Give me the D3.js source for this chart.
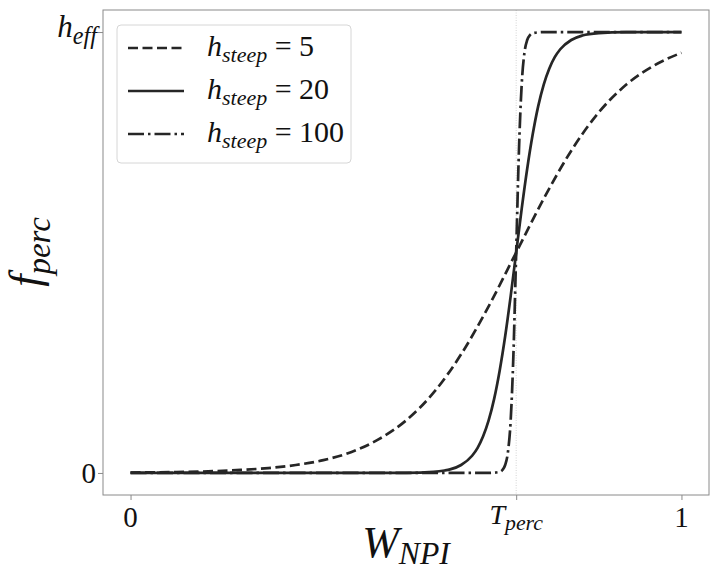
<!DOCTYPE html>
<html>
<head>
<meta charset="utf-8">
<script src="https://cdn.jsdelivr.net/npm/d3@7"></script>
<style>
  html, body { margin: 0; padding: 0; background: #fff; }
  svg text { font-family: "Liberation Serif", "DejaVu Serif", serif; fill: #111; }
</style>
</head>
<body>
<div id="chart"></div>
<script>
// values (f_perc in units of h_eff, W_NPI on [0,1])
const thresholdW = 0.7;

const steep5X = [0, 0.05, 0.1, 0.15, 0.2, 0.25, 0.3, 0.35, 0.4, 0.45, 0.5, 0.55, 0.6, 0.65, 0.7, 0.75, 0.8, 0.85, 0.9, 0.95, 1.0];
const steep5Y = [0.001, 0.0015, 0.0025, 0.004, 0.007, 0.011, 0.018, 0.029, 0.047, 0.076, 0.119, 0.182, 0.269, 0.378, 0.5, 0.622, 0.731, 0.818, 0.881, 0.924, 0.953];

const steep20X = [0, 0.1, 0.2, 0.3, 0.4, 0.5, 0.55, 0.57, 0.58, 0.6, 0.62, 0.63, 0.64, 0.65, 0.66, 0.67, 0.68, 0.69, 0.7, 0.71, 0.72, 0.73, 0.74, 0.75, 0.76, 0.77, 0.78, 0.8, 0.82, 0.85, 0.9, 1.0];
const steep20Y = [0, 0, 0, 0, 0, 0.0003, 0.0025, 0.0055, 0.008, 0.018, 0.039, 0.057, 0.083, 0.119, 0.168, 0.232, 0.31, 0.401, 0.5, 0.599, 0.69, 0.768, 0.832, 0.881, 0.917, 0.943, 0.961, 0.982, 0.992, 0.9975, 0.9997, 1.0];

const steep100X = [0, 0.3, 0.5, 0.65, 0.67, 0.675, 0.68, 0.685, 0.69, 0.695, 0.7, 0.705, 0.71, 0.715, 0.72, 0.725, 0.73, 0.75, 1.0];
const steep100Y = [0, 0, 0, 0, 0.0025, 0.0067, 0.018, 0.047, 0.119, 0.269, 0.5, 0.731, 0.881, 0.953, 0.982, 0.993, 0.9975, 1.0, 1.0];

const legendValues = ["5", "20", "100"];
const dashStyles = ["10,4.5", null, "16,4,2.5,4"];

const width = 722, height = 577;
const margin = { left: 103, right: 13, top: 10, bottom: 82 };
const ink = "#262626";

const svg = d3.select("#chart").append("svg")
    .attr("width", width)
    .attr("height", height);

// matplotlib-style 5% padding on both axes
const x = d3.scaleLinear().domain([-0.05, 1.05]).range([margin.left, width - margin.right]);
const y = d3.scaleLinear().domain([-0.05, 1.05]).range([height - margin.bottom, margin.top]);

// threshold guide line
svg.append("line")
    .attr("x1", x(thresholdW)).attr("x2", x(thresholdW))
    .attr("y1", margin.top).attr("y2", height - margin.bottom)
    .attr("stroke", "#c8c8c8")
    .attr("stroke-width", 0.8)
    .attr("stroke-dasharray", "1,1.5");

// curves
const series = [
    { xs: steep5X, ys: steep5Y },
    { xs: steep20X, ys: steep20Y },
    { xs: steep100X, ys: steep100Y }
];

const line = d3.line()
    .x(d => x(d[0]))
    .y(d => y(d[1]))
    .curve(d3.curveMonotoneX);

series.forEach((s, i) => {
    const pts = s.xs.map((v, j) => [v, s.ys[j]]);
    svg.append("path")
        .datum(pts)
        .attr("fill", "none")
        .attr("stroke", ink)
        .attr("stroke-width", 2.7)
        .attr("stroke-dasharray", dashStyles[i])
        .attr("d", line);
});

// frame
svg.append("rect")
    .attr("x", margin.left).attr("y", margin.top)
    .attr("width", width - margin.left - margin.right)
    .attr("height", height - margin.top - margin.bottom)
    .attr("fill", "none")
    .attr("stroke", "#8a8a8a")
    .attr("stroke-width", 1);

// axes with custom tick labels
const xAxis = svg.append("g")
    .attr("transform", `translate(0,${height - margin.bottom})`)
    .call(d3.axisBottom(x).tickValues([0, thresholdW, 1]).tickSize(5).tickFormat(""));
const yAxis = svg.append("g")
    .attr("transform", `translate(${margin.left},0)`)
    .call(d3.axisLeft(y).tickValues([0, 1]).tickSize(5).tickFormat(""));
[xAxis, yAxis].forEach(g => {
    g.select(".domain").remove();
    g.selectAll(".tick line").attr("stroke", "#8a8a8a");
});

function mathText(parent, main, sub, opts) {
    const t = parent.append("text")
        .attr("x", opts.x).attr("y", opts.y)
        .attr("text-anchor", opts.anchor || "middle")
        .attr("font-size", opts.size);
    if (opts.rotate) t.attr("transform", `rotate(-90,${opts.x},${opts.y})`);
    t.append("tspan").attr("font-style", "italic").text(main);
    if (sub) {
        t.append("tspan")
            .attr("font-style", "italic")
            .attr("font-size", opts.size * (opts.subScale || 0.7))
            .attr("dy", opts.subDy != null ? opts.subDy : opts.size * 0.22)
            .text(sub);
    }
    return t;
}

// x tick labels
svg.append("text").attr("x", x(0)).attr("y", 527).attr("text-anchor", "middle")
    .attr("font-size", 29).text("0");
svg.append("text").attr("x", x(1)).attr("y", 527).attr("text-anchor", "middle")
    .attr("font-size", 29).text("1");
mathText(svg, "T", "perc", { x: x(thresholdW), y: 524, size: 28, subScale: 0.78 });

// y tick labels
svg.append("text").attr("x", 96).attr("y", y(0) + 10).attr("text-anchor", "end")
    .attr("font-size", 29).text("0");
mathText(svg, "h", "eff", { x: 97, y: y(1) + 5, size: 31, anchor: "end", subScale: 0.78 });

// axis titles
mathText(svg, "W", "NPI", { x: x(0.5), y: 557, size: 44, subScale: 0.72, subDy: 7 });
mathText(svg, "f", "perc", { x: 40, y: 252, size: 44, rotate: true, subScale: 0.75 });

// legend
const legend = svg.append("g");
legend.append("rect")
    .attr("x", 117).attr("y", 25)
    .attr("width", 234).attr("height", 138)
    .attr("rx", 4)
    .attr("fill", "#fff").attr("fill-opacity", 0.8)
    .attr("stroke", "#d6d6d6").attr("stroke-width", 1);

legendValues.forEach((v, i) => {
    const ly = 48 + i * 43;
    legend.append("line")
        .attr("x1", 128).attr("x2", 184)
        .attr("y1", ly).attr("y2", ly)
        .attr("stroke", ink).attr("stroke-width", 2.7)
        .attr("stroke-dasharray", dashStyles[i]);
    const t = legend.append("text")
        .attr("x", 207).attr("y", ly + 8)
        .attr("font-size", 30);
    t.append("tspan").attr("font-style", "italic").text("h");
    t.append("tspan").attr("font-style", "italic").attr("font-size", 22)
        .attr("dy", 6).text("steep");
    t.append("tspan").attr("dy", -6).text(" = " + v);
});
</script>
</body>
</html>
